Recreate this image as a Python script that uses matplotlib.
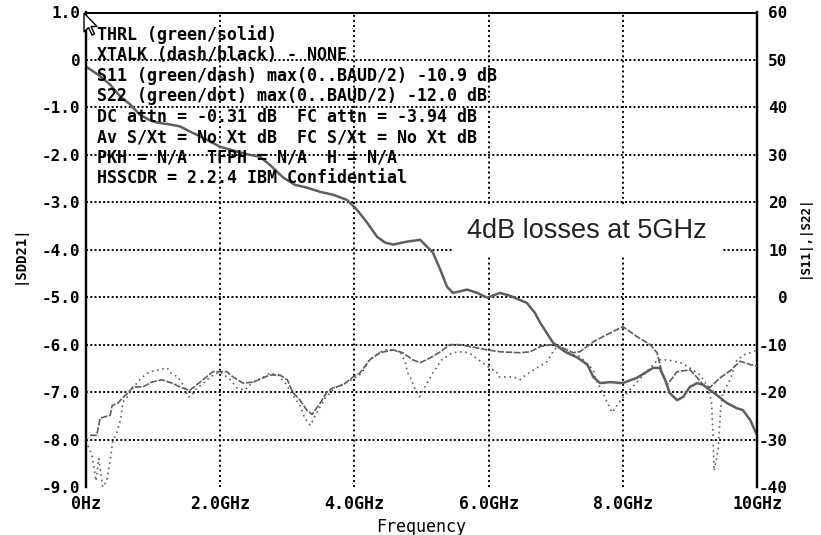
import numpy as np
import matplotlib.pyplot as plt
from matplotlib.patches import Polygon

# |SDD21| trace, left axis (dB) vs frequency (GHz)
sdd21_f = [0.0, 0.18, 0.36, 0.51, 0.66, 0.80, 0.95, 1.06, 1.25, 1.40, 1.55, 1.70,
           1.85, 2.00, 2.15, 2.30, 2.44, 2.59, 2.74, 2.94, 3.11, 3.29, 3.49, 3.68,
           3.89, 4.04, 4.19, 4.34, 4.46, 4.58, 4.78, 4.98, 5.17, 5.28, 5.38, 5.47,
           5.68, 5.83, 5.98, 6.17, 6.32, 6.57, 6.69, 6.77, 6.96, 7.14, 7.32, 7.47,
           7.56, 7.66, 7.81, 8.00, 8.21, 8.45, 8.55, 8.63, 8.70, 8.81, 8.90, 9.00,
           9.11, 9.20, 9.30, 9.40, 9.55, 9.70, 9.79, 9.90, 10.0]
sdd21_db = [-0.14, -0.31, -0.52, -0.77, -0.94, -1.15, -1.27, -1.32, -1.36, -1.40, -1.51, -1.61,
            -1.72, -1.83, -1.89, -1.95, -2.00, -2.04, -2.21, -2.48, -2.63, -2.69, -2.78, -2.84,
            -2.95, -3.16, -3.43, -3.73, -3.85, -3.89, -3.83, -3.79, -4.06, -4.42, -4.78, -4.91,
            -4.84, -4.91, -5.01, -4.91, -4.97, -5.12, -5.33, -5.54, -5.96, -6.15, -6.27, -6.42,
            -6.68, -6.81, -6.79, -6.81, -6.70, -6.49, -6.49, -6.74, -7.02, -7.17, -7.10, -6.89,
            -6.81, -6.85, -6.96, -7.06, -7.23, -7.34, -7.38, -7.59, -7.91]

# |S11| (dash) and |S22| (dot), right axis (dB)
s11_f = [0.06, 0.16, 0.21, 0.36, 0.39, 0.48, 0.55, 0.63, 0.70, 0.85, 0.98, 1.13,
         1.28, 1.43, 1.55, 1.70, 1.89, 2.10, 2.19, 2.34, 2.49, 2.64, 2.74, 2.89,
         3.00, 3.08, 3.19, 3.29, 3.37, 3.49, 3.59, 3.68, 3.83, 3.98, 4.08, 4.23,
         4.38, 4.58, 4.72, 4.87, 4.98, 5.13, 5.28, 5.42, 5.57, 5.72, 5.98, 6.17,
         6.47, 6.62, 6.77, 6.92, 7.06, 7.26, 7.36, 7.56, 7.76, 8.00, 8.21, 8.41,
         8.51, 8.58, 8.66, 8.81, 9.00, 9.10, 9.20, 9.30, 9.45, 9.60, 9.75, 9.90, 10.0]
s11_db = [-29.1, -29.1, -25.5, -24.9, -22.8, -22.3, -21.1, -20.2, -18.9, -18.9, -17.9, -17.4,
          -18.1, -19.1, -19.6, -17.9, -15.7, -15.7, -16.8, -18.1, -17.9, -17.0, -16.4, -16.4,
          -17.4, -20.0, -21.7, -23.8, -24.7, -22.3, -20.0, -19.1, -18.5, -16.8, -16.0, -13.2,
          -11.7, -11.1, -11.7, -13.2, -13.8, -12.8, -11.5, -10.0, -10.0, -10.4, -11.1, -11.5,
          -11.7, -11.5, -10.4, -10.0, -10.4, -11.7, -11.5, -9.4, -7.9, -6.2, -8.3, -10.0,
          -11.7, -15.7, -18.5, -15.7, -15.3, -16.8, -18.5, -19.0, -17.0, -15.5, -13.5, -14.2, -14.5]

s22_f = [0.03, 0.09, 0.15, 0.19, 0.25, 0.31, 0.37, 0.40, 0.46, 0.52, 0.55, 0.61,
         0.70, 0.80, 0.88, 0.95, 1.10, 1.21, 1.28, 1.37, 1.45, 1.52, 1.58, 1.65,
         1.74, 1.85, 2.00, 2.15, 2.25, 2.37, 2.47, 2.62, 2.74, 2.86, 2.97, 3.08,
         3.19, 3.26, 3.34, 3.38, 3.46, 3.56, 3.71, 3.86, 4.01, 4.11, 4.22, 4.37,
         4.45, 4.57, 4.69, 4.76, 4.79, 4.83, 4.90, 4.97, 5.17, 5.30, 5.46, 5.61,
         5.71, 5.78, 6.13, 6.15, 6.37, 6.47, 6.55, 6.87, 6.95, 7.02, 7.17, 7.26,
         7.36, 7.56, 7.59, 7.74, 7.84, 7.99, 8.52, 8.66, 8.86, 9.01, 9.15, 9.25,
         9.32, 9.34, 9.36, 9.42, 9.46, 9.49, 9.60, 9.70, 9.82, 9.94, 10.0]
s22_db = [-31.3, -33.4, -38.7, -34.0, -40.0, -38.7, -33.4, -30.2, -28.5, -25.5, -22.1, -21.1,
          -19.1, -17.4, -16.4, -15.7, -15.3, -14.9, -16.2, -16.8, -18.5, -21.1, -20.6, -19.1,
          -18.3, -16.8, -15.7, -17.4, -19.1, -19.6, -18.1, -17.0, -16.0, -16.4, -18.1, -20.6,
          -22.8, -25.5, -27.0, -26.0, -23.8, -21.3, -19.1, -18.1, -17.0, -16.0, -13.2, -11.7,
          -11.1, -11.1, -11.7, -13.8, -15.8, -16.8, -19.2, -21.0, -15.9, -13.2, -11.7, -11.5,
          -11.7, -12.5, -16.0, -16.8, -16.8, -17.4, -16.4, -13.6, -11.7, -10.4, -11.5, -12.1,
          -12.5, -15.3, -17.0, -21.3, -24.3, -21.3, -13.2, -13.2, -13.8, -15.0, -16.4, -18.5,
          -21.7, -27.4, -36.6, -32.3, -23.2, -20.2, -17.4, -13.2, -12.1, -11.5, -11.2]

freq_ticks = [0, 2, 4, 6, 8, 10]
freq_labels = ['0Hz', '2.0GHz', '4.0GHz', '6.0GHz', '8.0GHz', '10GHz']
left_ticks = [1, 0, -1, -2, -3, -4, -5, -6, -7, -8, -9]
left_labels = ['1.0', '0', '-1.0', '-2.0', '-3.0', '-4.0', '-5.0', '-6.0', '-7.0', '-8.0', '-9.0']
right_ticks = [60, 50, 40, 30, 20, 10, 0, -10, -20, -30, -40]
right_labels = ['60', '50', '40', '30', '20', '10', '0', '-10', '-20', '-30', '-40']

info_lines = [
    'THRL (green/solid)',
    'XTALK (dash/black) - NONE',
    'S11 (green/dash) max(0..BAUD/2) -10.9 dB',
    'S22 (green/dot) max(0..BAUD/2) -12.0 dB',
    'DC attn = -0.31 dB  FC attn = -3.94 dB',
    'Av S/Xt = No Xt dB  FC S/Xt = No Xt dB',
    'PKH = N/A  TFPH = N/A  H = N/A',
    'HSSCDR = 2.2.4 IBM Confidential',
]
note = '4dB losses at 5GHz'

plt.rcParams['font.family'] = 'DejaVu Sans Mono'
plt.rcParams['font.weight'] = 'bold'

W, H = 821, 535
fig = plt.figure(figsize=(W / 100, H / 100), dpi=100)
ax = fig.add_axes([86 / W, 1 - 487 / H, (757 - 86) / W, (487 - 12.5) / H])
ax2 = ax.twinx()

curve = '#5e5e5e'

# grid (inner lines only)
for v in left_ticks[1:-1]:
    ax.axhline(v, color='black', lw=1.4, ls=(0, (1, 1.2)), zorder=1)
for v in freq_ticks[1:-1]:
    ax.axvline(v, color='black', lw=1.4, ls=(0, (1, 1.6)), zorder=1)

ax.plot(sdd21_f, sdd21_db, color=curve, lw=1.8, zorder=3)
ax2.plot(s11_f, s11_db, color=curve, lw=1.2, ls=(0, (4, 1)), zorder=3)
ax2.plot(s22_f, s22_db, color=curve, lw=1.2, ls=(0, (1, 2.2)), zorder=3)

ax.set_xlim(0, 10)
ax.set_ylim(-9, 1)
ax2.set_ylim(-40, 60)

ax.set_xticks(freq_ticks)
ax.set_xticklabels(freq_labels, fontsize=12)
ax.set_yticks(left_ticks)
ax.set_yticklabels(left_labels, fontsize=11.5)
ax2.set_yticks(right_ticks)
ax2.set_yticklabels(right_labels, fontsize=11.5, ha='right')
ax.tick_params(axis='x', length=0, pad=6)
ax.tick_params(axis='y', length=0, pad=4)
ax2.tick_params(axis='y', length=0, pad=22)

for a in (ax, ax2):
    a.spines['bottom'].set_visible(False)
    a.spines['left'].set_linewidth(1.6)
    a.spines['right'].set_linewidth(1.6)
    a.spines['top'].set_linewidth(1.2)
    a.set_facecolor('none')

ax.set_xlabel('Frequency', fontsize=12, labelpad=3)
fig.text(20 / W, 1 - 255 / H, '|SDD21|', rotation=90, ha='center', va='center', fontsize=10)
fig.text(804 / W, 1 - 237 / H, '|S11|,|S22|', rotation=90, ha='center', va='center', fontsize=9)

for i, line in enumerate(info_lines):
    ax.text(0.164, 0.526 - 0.432 * i, line, fontsize=12, va='center', ha='left', zorder=4)

ax2.text(7.47, 14.0, note, family='Liberation Sans', fontweight='normal', fontsize=19.5,
         color='#222222', ha='center', va='center', zorder=6,
         bbox=dict(boxstyle='square,pad=0.5', facecolor='white', edgecolor='none'))

# mouse pointer at the top-left corner
pts = np.array([(0, 0), (0, 19), (4.5, 14.5), (8, 22), (10.5, 21), (7, 13.5), (13, 13.5)])
pts = pts + (84, 13)
fig.patches.append(Polygon(np.column_stack([pts[:, 0] / W, 1 - pts[:, 1] / H]), closed=True,
                           facecolor='white', edgecolor='black', lw=1,
                           transform=fig.transFigure, figure=fig, zorder=10))

fig.savefig('out.png', dpi=100)
